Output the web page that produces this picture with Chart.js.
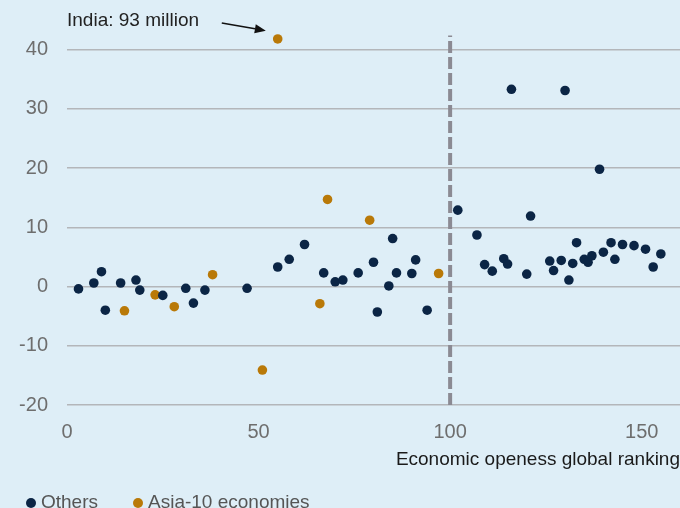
<!DOCTYPE html>
<html>
<head>
<meta charset="utf-8">
<script src="https://cdn.jsdelivr.net/npm/chart.js@4.4.1/dist/chart.umd.min.js"></script>
<style>
    html, body { margin: 0; padding: 0; background: #deeef7; overflow: hidden; }
    .wrap { position: relative; width: 680px; height: 508px; overflow: hidden; }
    .legend { position: absolute; left: 0; top: 491px; font: 19px "Liberation Sans", Arial, sans-serif; color: #555; white-space: nowrap; }
    .legend span { position: absolute; top: 0; }
    .legend i { position: absolute; top: 7px; width: 10px; height: 10px; border-radius: 50%; }
</style>
</head>
<body>
<div class="wrap">
    <canvas id="chart" width="680" height="508"></canvas>
    <div class="legend">
        <i style="left: 26px; background: #0b2545;"></i><span style="left: 41px;">Others</span>
        <i style="left: 133px; background: #b97908;"></i><span style="left: 148px;">Asia-10 economies</span>
    </div>
</div>
<script>
// ranking (x) vs change (y)
const othersX = [3, 7, 9, 10, 14, 18, 19, 25, 31, 33, 36, 47, 55, 58, 62, 67, 70, 72, 76, 80, 81, 84, 85, 86, 90, 91, 94,
    102, 107, 109, 111, 114, 115, 116, 120, 121, 126, 127, 129, 130, 131, 132, 133, 135, 136, 137, 139, 140, 142, 143, 145, 148, 151, 153, 155];
const othersY = [-0.4, 0.6, 2.5, -4.0, 0.6, 1.1, -0.6, -1.5, -0.3, -2.8, -0.6, -0.3, 3.3, 4.6, 7.1, 2.3, 0.8, 1.1, 2.3, 4.1, -4.3, 0.1, 8.1, 2.3, 2.2, 4.5, -4.0,
    12.9, 8.7, 3.7, 2.6, 4.7, 3.8, 33.3, 2.1, 11.9, 4.3, 2.7, 4.4, 33.1, 1.1, 3.9, 7.4, 4.6, 4.1, 5.2, 19.8, 5.8, 7.4, 4.6, 7.1, 6.9, 6.3, 3.3, 5.5];

const asiaX = [15, 23, 28, 38, 51, 55, 66, 68, 79, 97];
const asiaY = [-4.1, -1.4, -3.4, 2.0, -14.1, 41.8, -2.9, 14.7, 11.2, 2.2];

const cutoffX = [100, 100];
const cutoffY = [-20, 42.4];

const xTicks = [0, 50, 100, 150];
const yTicks = [-20, -10, 0, 10, 20, 30, 40];

const noteText = 'India: 93 million';
const notePos = [0, 44.8];
const arrowFrom = [40.4, 44.5];
const arrowTo = [51.9, 43.2];

const toPoints = (xs, ys) => xs.map((x, i) => ({ x, y: ys[i] }));

const FONT = '"Liberation Sans", Arial, sans-serif';

const annotationPlugin = {
    id: 'indiaNote',
    afterDatasetsDraw(chart) {
        const { ctx, scales: { x, y } } = chart;
        ctx.save();
        ctx.fillStyle = '#222';
        ctx.font = '19px ' + FONT;
        ctx.textBaseline = 'middle';
        ctx.fillText(noteText, x.getPixelForValue(notePos[0]), y.getPixelForValue(notePos[1]));

        const x1 = x.getPixelForValue(arrowFrom[0]);
        const y1 = y.getPixelForValue(arrowFrom[1]);
        const x2 = x.getPixelForValue(arrowTo[0]);
        const y2 = y.getPixelForValue(arrowTo[1]);
        const ang = Math.atan2(y2 - y1, x2 - x1);
        const head = 11;
        const hx = x2 - head * Math.cos(ang);
        const hy = y2 - head * Math.sin(ang);
        ctx.strokeStyle = '#111';
        ctx.lineWidth = 1.5;
        ctx.beginPath();
        ctx.moveTo(x1, y1);
        ctx.lineTo(hx, hy);
        ctx.stroke();
        ctx.fillStyle = '#111';
        ctx.beginPath();
        ctx.moveTo(x2, y2);
        ctx.lineTo(hx + 4.5 * Math.sin(ang), hy - 4.5 * Math.cos(ang));
        ctx.lineTo(hx - 4.5 * Math.sin(ang), hy + 4.5 * Math.cos(ang));
        ctx.closePath();
        ctx.fill();
        ctx.restore();
    },
};

new Chart(document.getElementById('chart'), {
    type: 'scatter',
    data: {
        datasets: [
            {
                type: 'line',
                label: 'cutoff',
                data: toPoints(cutoffX, cutoffY),
                borderColor: '#8b8a93',
                borderWidth: 4,
                borderDash: [12, 4],
                pointRadius: 0,
                fill: false,
                order: 3,
            },
            {
                label: 'Others',
                data: toPoints(othersX, othersY),
                backgroundColor: '#0b2545',
                borderWidth: 0,
                pointRadius: 4.8,
                order: 1,
            },
            {
                label: 'Asia-10 economies',
                data: toPoints(asiaX, asiaY),
                backgroundColor: '#b97908',
                borderWidth: 0,
                pointRadius: 4.8,
                order: 2,
            },
        ],
    },
    options: {
        responsive: false,
        animation: false,
        clip: false,
        layout: { autoPadding: false, padding: { top: 20, right: 0, bottom: 37, left: 0 } },
        plugins: { legend: { display: false }, tooltip: { enabled: false } },
        scales: {
            x: {
                type: 'linear',
                min: 0,
                max: 160,
                afterBuildTicks: (s) => { s.ticks = xTicks.map((v) => ({ value: v })); },
                afterFit: (s) => {
                    s.height = 66;
                    s.paddingLeft = 0;
                    s.paddingRight = 0;
                },
                grid: { display: false, drawTicks: false },
                border: { display: false },
                ticks: { padding: 15, color: '#6e6e6e', font: { family: FONT, size: 20, lineHeight: 1.2 } },
                title: {
                    display: true,
                    text: 'Economic openess global ranking',
                    align: 'end',
                    color: '#1a1a1a',
                    font: { family: FONT, size: 19, lineHeight: 1.2 },
                    padding: { top: 4, bottom: 0 },
                },
            },
            y: {
                min: -20,
                max: 45,
                afterBuildTicks: (s) => { s.ticks = yTicks.map((v) => ({ value: v })); },
                afterFit: (s) => {
                    s.width = 67;
                    s.paddingTop = 0;
                    s.paddingBottom = 0;
                },
                grid: { color: '#b3b6ba', lineWidth: 1.5, drawTicks: false },
                border: { display: false },
                ticks: { padding: 19, color: '#6e6e6e', font: { family: FONT, size: 20 } },
            },
        },
    },
    plugins: [annotationPlugin],
});
</script>
</body>
</html>
